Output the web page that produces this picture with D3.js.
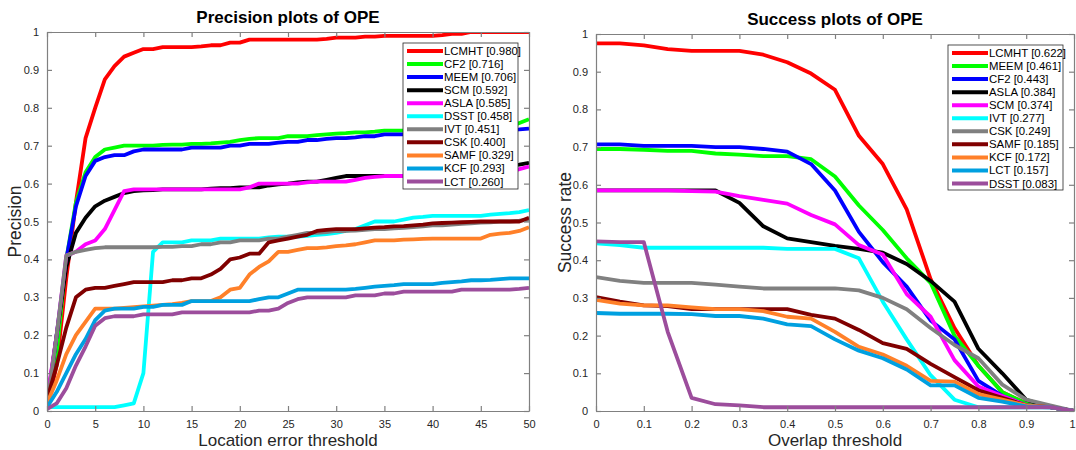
<!DOCTYPE html>
<html>
<head>
<meta charset="utf-8">
<script src="https://cdn.jsdelivr.net/npm/d3@7/dist/d3.min.js"></script>
<style>
  html, body { margin: 0; padding: 0; background: #fff; }
  svg { display: block; font-family: "Liberation Sans", Arial, Helvetica, sans-serif; }
</style>
</head>
<body>
<svg id="chart" width="1076" height="450"></svg>
<script>
// ---- Precision plot (location error threshold 0..50) ----
const precThresholds = d3.range(0, 51);
const precNames = ["LCMHT", "CF2", "MEEM", "SCM", "ASLA", "DSST", "IVT", "CSK", "SAMF", "KCF", "LCT"];
const precScores = ["0.980", "0.716", "0.706", "0.592", "0.585", "0.458", "0.451", "0.400", "0.329", "0.293", "0.260"];

const precLCMHT = [0.01,0.12,0.35,0.55,0.72,0.80,0.875,0.91,0.935,0.945,0.955,0.955,0.96,0.96,0.96,0.96,0.962,0.965,0.965,0.972,0.972,0.98,0.98,0.98,0.98,0.98,0.98,0.98,0.98,0.982,0.985,0.985,0.985,0.988,0.988,0.99,0.99,0.99,0.99,0.99,0.99,0.992,0.995,0.995,1.0,1.0,1.0,1.0,1.0,1.0,1.0];
const precCF2   = [0.01,0.15,0.40,0.55,0.63,0.67,0.69,0.695,0.70,0.70,0.70,0.70,0.702,0.703,0.703,0.705,0.705,0.706,0.708,0.71,0.715,0.718,0.72,0.72,0.72,0.725,0.725,0.725,0.728,0.73,0.732,0.733,0.735,0.735,0.737,0.74,0.74,0.74,0.74,0.74,0.74,0.742,0.742,0.743,0.745,0.745,0.746,0.747,0.75,0.76,0.77];
const precMEEM  = [0.01,0.20,0.40,0.54,0.62,0.66,0.67,0.675,0.675,0.685,0.69,0.69,0.69,0.69,0.69,0.695,0.695,0.695,0.695,0.70,0.70,0.705,0.705,0.705,0.708,0.71,0.71,0.715,0.715,0.718,0.72,0.72,0.722,0.725,0.725,0.73,0.73,0.73,0.732,0.733,0.735,0.735,0.735,0.737,0.738,0.74,0.74,0.74,0.742,0.743,0.745];
const precSCM   = [0.02,0.20,0.38,0.47,0.51,0.54,0.555,0.565,0.575,0.58,0.582,0.583,0.585,0.585,0.585,0.585,0.585,0.587,0.588,0.588,0.59,0.59,0.59,0.595,0.598,0.60,0.603,0.605,0.605,0.61,0.615,0.62,0.62,0.62,0.62,0.62,0.62,0.62,0.62,0.622,0.625,0.628,0.63,0.632,0.635,0.638,0.64,0.645,0.648,0.65,0.655];
const precASLA  = [0.03,0.20,0.41,0.42,0.44,0.45,0.48,0.53,0.58,0.585,0.585,0.585,0.585,0.585,0.585,0.585,0.585,0.585,0.585,0.585,0.585,0.59,0.60,0.60,0.60,0.60,0.60,0.603,0.605,0.605,0.605,0.605,0.61,0.615,0.618,0.62,0.62,0.62,0.62,0.62,0.62,0.622,0.622,0.623,0.625,0.625,0.627,0.628,0.63,0.638,0.645];
const precDSST  = [0.01,0.01,0.01,0.01,0.01,0.01,0.01,0.01,0.015,0.02,0.10,0.42,0.445,0.445,0.445,0.45,0.45,0.45,0.455,0.455,0.455,0.455,0.455,0.458,0.46,0.46,0.46,0.462,0.465,0.467,0.47,0.475,0.48,0.49,0.50,0.50,0.50,0.505,0.51,0.512,0.515,0.515,0.515,0.515,0.515,0.515,0.518,0.52,0.522,0.525,0.53];
const precIVT   = [0.01,0.20,0.41,0.42,0.425,0.43,0.432,0.432,0.432,0.432,0.432,0.432,0.433,0.433,0.435,0.435,0.44,0.44,0.445,0.445,0.45,0.45,0.45,0.455,0.455,0.46,0.465,0.47,0.47,0.472,0.475,0.475,0.476,0.478,0.48,0.48,0.482,0.483,0.485,0.487,0.49,0.49,0.492,0.494,0.495,0.497,0.498,0.50,0.50,0.502,0.505];
const precCSK   = [0.03,0.12,0.22,0.30,0.32,0.325,0.325,0.33,0.335,0.34,0.34,0.34,0.34,0.345,0.345,0.35,0.35,0.36,0.375,0.40,0.405,0.415,0.415,0.445,0.45,0.455,0.46,0.465,0.475,0.478,0.48,0.48,0.48,0.482,0.484,0.485,0.487,0.488,0.49,0.492,0.495,0.496,0.497,0.498,0.499,0.50,0.50,0.50,0.50,0.50,0.51];
const precSAMF  = [0.02,0.08,0.15,0.20,0.235,0.27,0.27,0.27,0.272,0.274,0.276,0.278,0.28,0.282,0.285,0.29,0.29,0.29,0.30,0.32,0.325,0.36,0.38,0.395,0.42,0.42,0.425,0.43,0.43,0.432,0.435,0.437,0.44,0.445,0.45,0.45,0.45,0.452,0.453,0.454,0.455,0.455,0.455,0.455,0.455,0.455,0.465,0.468,0.47,0.475,0.485];
const precKCF   = [0.01,0.05,0.10,0.15,0.19,0.24,0.265,0.27,0.27,0.27,0.275,0.275,0.28,0.28,0.28,0.29,0.29,0.29,0.29,0.29,0.29,0.29,0.295,0.30,0.30,0.31,0.32,0.32,0.32,0.32,0.32,0.32,0.322,0.325,0.328,0.33,0.332,0.335,0.335,0.335,0.335,0.338,0.34,0.342,0.345,0.345,0.346,0.348,0.35,0.35,0.35];
const precLCT   = [0.005,0.02,0.06,0.12,0.17,0.225,0.245,0.25,0.25,0.25,0.255,0.255,0.255,0.255,0.26,0.26,0.26,0.26,0.26,0.26,0.26,0.26,0.265,0.265,0.27,0.285,0.295,0.30,0.30,0.30,0.30,0.30,0.305,0.305,0.305,0.31,0.31,0.315,0.315,0.315,0.315,0.315,0.315,0.32,0.32,0.32,0.32,0.32,0.32,0.322,0.325];

// ---- Success plot (overlap threshold 0..1, step 0.05) ----
const succThresholds = d3.range(0, 21).map(i => i / 20);
const succNames = ["LCMHT", "MEEM", "CF2", "ASLA", "SCM", "IVT", "CSK", "SAMF", "KCF", "LCT", "DSST"];
const succScores = ["0.622", "0.461", "0.443", "0.384", "0.374", "0.277", "0.249", "0.185", "0.172", "0.157", "0.083"];

const succLCMHT = [0.975,0.975,0.97,0.96,0.955,0.955,0.955,0.945,0.925,0.895,0.852,0.73,0.655,0.535,0.35,0.22,0.12,0.05,0.02,0.01,0.0];
const succMEEM  = [0.695,0.695,0.693,0.69,0.69,0.683,0.68,0.676,0.676,0.668,0.622,0.545,0.48,0.405,0.34,0.20,0.12,0.05,0.02,0.01,0.0];
const succCF2   = [0.707,0.707,0.703,0.703,0.703,0.70,0.70,0.695,0.688,0.655,0.585,0.475,0.395,0.33,0.24,0.19,0.08,0.04,0.015,0.01,0.0];
const succASLA  = [0.585,0.585,0.585,0.585,0.585,0.585,0.552,0.49,0.458,0.448,0.438,0.43,0.42,0.39,0.345,0.29,0.165,0.10,0.03,0.01,0.0];
const succSCM   = [0.585,0.585,0.585,0.585,0.583,0.582,0.57,0.56,0.55,0.52,0.495,0.44,0.415,0.31,0.25,0.135,0.065,0.04,0.015,0.01,0.0];
const succIVT   = [0.445,0.44,0.433,0.433,0.433,0.433,0.433,0.433,0.43,0.43,0.43,0.405,0.29,0.19,0.095,0.03,0.01,0.01,0.01,0.01,0.0];
const succCSK   = [0.355,0.345,0.34,0.34,0.34,0.335,0.33,0.325,0.325,0.325,0.325,0.32,0.30,0.27,0.22,0.175,0.14,0.07,0.03,0.015,0.0];
const succSAMF  = [0.302,0.29,0.28,0.278,0.27,0.27,0.27,0.27,0.27,0.255,0.245,0.215,0.18,0.165,0.125,0.09,0.055,0.035,0.015,0.01,0.0];
const succKCF   = [0.295,0.285,0.28,0.28,0.275,0.27,0.27,0.265,0.25,0.245,0.21,0.17,0.15,0.12,0.08,0.078,0.045,0.03,0.015,0.01,0.0];
const succLCT   = [0.26,0.258,0.258,0.258,0.257,0.252,0.252,0.245,0.23,0.225,0.19,0.16,0.14,0.11,0.068,0.068,0.035,0.025,0.012,0.01,0.0];
const succDSST  = [0.45,0.448,0.448,0.21,0.035,0.018,0.015,0.01,0.01,0.01,0.01,0.01,0.01,0.01,0.01,0.01,0.01,0.01,0.01,0.01,0.0];

// Line colours by legend rank (same palette on both panels)
const rankColors = ["#ff0000", "#00ff00", "#0000ff", "#000000", "#ff00ff", "#00ffff",
                    "#808080", "#800000", "#ff8029", "#00a0e0", "#9c4d9c"];

const precSeries = [precLCMHT, precCF2, precMEEM, precSCM, precASLA, precDSST, precIVT, precCSK, precSAMF, precKCF, precLCT];
const succSeries = [succLCMHT, succMEEM, succCF2, succASLA, succSCM, succIVT, succCSK, succSAMF, succKCF, succLCT, succDSST];

const svg = d3.select("#chart");
const axisColor = "#808080";
const textColor = "#262626";

function drawPanel(cfg) {
  const x = d3.scaleLinear().domain(cfg.xDomain).range([cfg.left, cfg.right]);
  const y = d3.scaleLinear().domain([0, 1]).range([cfg.bottom, cfg.top]);
  const g = svg.append("g");

  const clipId = "clip-" + cfg.id;
  svg.append("clipPath").attr("id", clipId)
    .append("rect")
    .attr("x", cfg.left).attr("y", cfg.top)
    .attr("width", cfg.right - cfg.left).attr("height", cfg.bottom - cfg.top);

  // curves
  const line = d3.line()
    .x((d, i) => x(cfg.thresholds[i]))
    .y(d => y(d));
  const curves = g.append("g").attr("clip-path", `url(#${clipId})`);
  cfg.series.forEach((vals, k) => {
    curves.append("path")
      .datum(vals)
      .attr("d", line)
      .attr("fill", "none")
      .attr("stroke", rankColors[k])
      .attr("stroke-width", 3.8)
      .attr("stroke-linejoin", "round");
  });

  // axes (ticks point inward, box on all four sides)
  const tickLen = 5;
  const styleAxis = sel => {
    sel.selectAll("path").attr("stroke", axisColor).attr("stroke-width", 1.2);
    sel.selectAll("line").attr("stroke", axisColor).attr("stroke-width", 1.2);
    sel.selectAll("text").attr("fill", textColor).style("font-size", "11px");
  };
  const xb = g.append("g").attr("transform", `translate(0,${cfg.bottom})`)
    .call(d3.axisBottom(x).tickValues(cfg.xTicks).tickFormat(cfg.xFormat)
      .tickSizeInner(-tickLen).tickSizeOuter(0).tickPadding(9));
  styleAxis(xb);
  // keep the last label inside the page edge
  if (cfg.lastLabelShift) {
    xb.selectAll(".tick:last-of-type text").attr("dx", cfg.lastLabelShift);
  }
  const xt = g.append("g").attr("transform", `translate(0,${cfg.top})`)
    .call(d3.axisTop(x).tickValues(cfg.xTicks).tickFormat("")
      .tickSizeInner(-tickLen).tickSizeOuter(0));
  styleAxis(xt);
  const yl = g.append("g").attr("transform", `translate(${cfg.left},0)`)
    .call(d3.axisLeft(y).tickValues(d3.range(0, 11).map(i => i / 10))
      .tickFormat(d => d === 0 ? "0" : d === 1 ? "1" : d3.format(".1f")(d))
      .tickSizeInner(-tickLen).tickSizeOuter(0).tickPadding(8));
  styleAxis(yl);
  const yr = g.append("g").attr("transform", `translate(${cfg.right},0)`)
    .call(d3.axisRight(y).tickValues(d3.range(0, 11).map(i => i / 10)).tickFormat("")
      .tickSizeInner(-tickLen).tickSizeOuter(0));
  styleAxis(yr);

  // titles and labels
  g.append("text")
    .attr("x", (cfg.left + cfg.right) / 2).attr("y", cfg.titleY)
    .attr("text-anchor", "middle")
    .attr("fill", "#000")
    .style("font-size", "17px").style("font-weight", "bold")
    .text(cfg.title);
  g.append("text")
    .attr("x", (cfg.left + cfg.right) / 2).attr("y", 446)
    .attr("text-anchor", "middle")
    .attr("fill", textColor)
    .style("font-size", "17px")
    .text(cfg.xLabel);
  g.append("text")
    .attr("transform", `translate(${cfg.yLabelX},${(cfg.top + cfg.bottom) / 2}) rotate(-90)`)
    .attr("text-anchor", "middle")
    .attr("fill", textColor)
    .style("font-size", "17.5px")
    .text(cfg.yLabel);

  // legend
  const lg = g.append("g");
  lg.append("rect")
    .attr("x", cfg.legend.x).attr("y", cfg.legend.y)
    .attr("width", cfg.legend.w).attr("height", cfg.legend.h)
    .attr("fill", "#fff").attr("stroke", "#262626").attr("stroke-width", 0.8);
  const rowStep = 13.05;
  cfg.names.forEach((name, k) => {
    const ry = cfg.legend.y + 8 + k * rowStep;
    lg.append("line")
      .attr("x1", cfg.legend.x + 4).attr("x2", cfg.legend.x + 40)
      .attr("y1", ry).attr("y2", ry)
      .attr("stroke", rankColors[k]).attr("stroke-width", 4);
    lg.append("text")
      .attr("x", cfg.legend.x + 41).attr("y", ry + 4)
      .attr("fill", "#000")
      .style("font-size", "11.4px")
      .text(`${name} [${cfg.scores[k]}]`);
  });
}

drawPanel({
  id: "prec",
  left: 47, right: 529, top: 32, bottom: 411,
  xDomain: [0, 50],
  thresholds: precThresholds,
  xTicks: d3.range(0, 51, 5),
  xFormat: d3.format("d"),
  series: precSeries,
  names: precNames, scores: precScores,
  title: "Precision plots of OPE", titleY: 23,
  xLabel: "Location error threshold",
  yLabel: "Precision", yLabelX: 21,
  legend: { x: 403, y: 43, w: 115, h: 146 }
});

drawPanel({
  id: "succ",
  left: 596, right: 1074, top: 34, bottom: 411,
  xDomain: [0, 1],
  thresholds: succThresholds,
  xTicks: d3.range(0, 11).map(i => i / 10),
  xFormat: d => d === 0 ? "0" : d === 1 ? "1" : d3.format(".1f")(d),
  lastLabelShift: -2,
  series: succSeries,
  names: succNames, scores: succScores,
  title: "Success plots of OPE", titleY: 25,
  xLabel: "Overlap threshold",
  yLabel: "Success rate", yLabelX: 571,
  legend: { x: 948, y: 45, w: 115, h: 145 }
});
</script>
</body>
</html>
